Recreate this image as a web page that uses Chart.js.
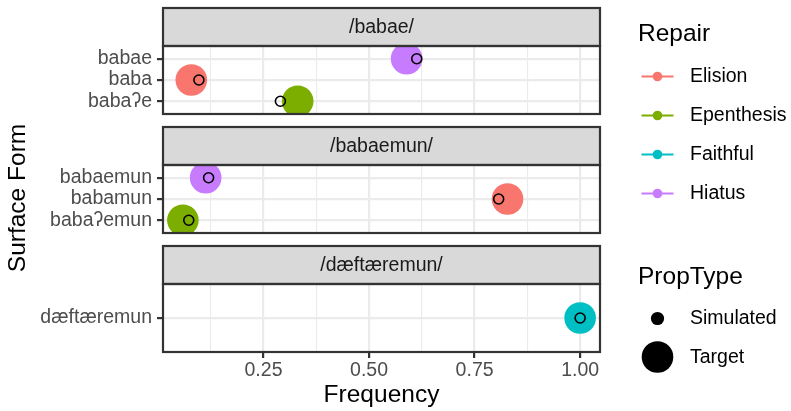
<!DOCTYPE html>
<html>
<head>
<meta charset="utf-8">
<script src="https://cdn.jsdelivr.net/npm/chart.js@4/dist/chart.umd.min.js"></script>
<style>
  html, body { margin: 0; padding: 0; background: #ffffff; }
  #wrap { position: relative; width: 791px; height: 411px; overflow: hidden; background: #ffffff; }
  #wrap canvas { position: absolute; left: 0; top: 0; }
</style>
</head>
<body>
<div id="wrap">
  <canvas id="facet3" width="791" height="411"></canvas>
  <canvas id="facet1" width="791" height="411"></canvas>
  <canvas id="facet2" width="791" height="411"></canvas>
</div>
<script>
// ---- data ----
const panelTitles = ['/babae/', '/babaemun/', '/dæftæremun/'];

const forms1 = ['babae', 'baba', 'babaʔe'];
const repair1 = ['Hiatus', 'Elision', 'Epenthesis'];
const target1 = [0.589, 0.079, 0.331];
const simulated1 = [0.613, 0.097, 0.290];

const forms2 = ['babaemun', 'babamun', 'babaʔemun'];
const repair2 = ['Hiatus', 'Elision', 'Epenthesis'];
const target2 = [0.113, 0.828, 0.059];
const simulated2 = [0.120, 0.807, 0.073];

const forms3 = ['dæftæremun'];
const repair3 = ['Faithful'];
const target3 = [1.0];
const simulated3 = [1.0];

const repairLevels = ['Elision', 'Epenthesis', 'Faithful', 'Hiatus'];
const repairColors = ['#F8766D', '#7CAE00', '#00BFC4', '#C77CFF'];
const propTypeLevels = ['Simulated', 'Target'];

const xMajorTicks = [0.25, 0.5, 0.75, 1.0];
const xMajorLabels = ['0.25', '0.50', '0.75', '1.00'];
const xMinorTicks = [0.125, 0.375, 0.625, 0.875];

// ---- layout ----
const W = 791, H = 411;
const FONT = "'Liberation Sans', Arial, 'DejaVu Sans', sans-serif";
const SMALL = 19.5, LARGE = 24.5;
const PANEL_LEFT = 163, PANEL_RIGHT = 600;
const STRIP_H = 38, PANEL_H = 68;
const stripTops = [8, 127, 246];
const LINE = 2.2;
const GRID = '#EBEBEB';
const DARK = '#333333';

// shared x limits: data range plus 5% on each side
const allX = [].concat(target1, simulated1, target2, simulated2, target3, simulated3);
const dMin = Math.min(...allX), dMax = Math.max(...allX);
const xMin = dMin - 0.05 * (dMax - dMin);
const xMax = dMax + 0.05 * (dMax - dMin);

const xTickValues = xMinorTicks.concat(xMajorTicks).sort((a, b) => a - b);
const isMajor = v => xMajorTicks.some(m => Math.abs(m - v) < 1e-9);

// strip header and panel frame for each facet
const facetFrame = {
  id: 'facetFrame',
  afterDraw(chart, args, opts) {
    const { ctx, chartArea: a } = chart;
    ctx.save();
    const w = a.right - a.left;
    ctx.fillStyle = '#D9D9D9';
    ctx.fillRect(a.left, a.top - STRIP_H, w, STRIP_H);
    ctx.strokeStyle = DARK;
    ctx.lineWidth = LINE;
    ctx.strokeRect(a.left, a.top - STRIP_H, w, STRIP_H);
    ctx.strokeRect(a.left, a.top, w, a.bottom - a.top);
    ctx.fillStyle = '#1A1A1A';
    ctx.font = SMALL + 'px ' + FONT;
    ctx.textAlign = 'center';
    ctx.textBaseline = 'middle';
    ctx.fillText(opts.title, (a.left + a.right) / 2, a.top - STRIP_H / 2 + 1);
    ctx.restore();
  }
};

// y-axis title spanning all facets, plus the two guides on the right
const guides = {
  id: 'guides',
  afterDraw(chart) {
    const { ctx } = chart;
    ctx.save();
    ctx.fillStyle = '#000000';
    ctx.font = LARGE + 'px ' + FONT;
    ctx.translate(18.5, 198);
    ctx.rotate(-Math.PI / 2);
    ctx.textAlign = 'center';
    ctx.textBaseline = 'middle';
    ctx.fillText('Surface Form', 0, 0);
    ctx.restore();

    ctx.save();
    const keyX = 657.5, labelX = 690, titleX = 638;
    ctx.fillStyle = '#000000';
    ctx.textAlign = 'left';
    ctx.textBaseline = 'alphabetic';
    ctx.font = LARGE + 'px ' + FONT;
    ctx.fillText('Repair', titleX, 40.5);
    ctx.font = SMALL + 'px ' + FONT;
    ctx.textBaseline = 'middle';
    repairLevels.forEach((name, i) => {
      const y = 76.5 + i * 39;
      ctx.strokeStyle = repairColors[i];
      ctx.lineWidth = 2.2;
      ctx.beginPath();
      ctx.moveTo(keyX - 16, y);
      ctx.lineTo(keyX + 16, y);
      ctx.stroke();
      ctx.fillStyle = repairColors[i];
      ctx.beginPath();
      ctx.arc(keyX, y, 4.8, 0, Math.PI * 2);
      ctx.fill();
      ctx.fillStyle = '#000000';
      ctx.fillText(name, labelX, y + 0.5);
    });

    ctx.textBaseline = 'alphabetic';
    ctx.font = LARGE + 'px ' + FONT;
    ctx.fillText('PropType', titleX, 283.5);
    ctx.font = SMALL + 'px ' + FONT;
    ctx.textBaseline = 'middle';
    const keyRadius = [6.6, 15.8];
    const keyY = [318.5, 357];
    propTypeLevels.forEach((name, i) => {
      ctx.fillStyle = '#000000';
      ctx.beginPath();
      ctx.arc(keyX, keyY[i], keyRadius[i], 0, Math.PI * 2);
      ctx.fill();
      ctx.fillText(name, labelX, keyY[i] + 0.5);
    });
    ctx.restore();
  }
};

function makeFacet(canvasId, k, forms, repair, target, simulated, showX) {
  const top = stripTops[k] + STRIP_H;
  const bottom = top + PANEL_H;
  const colors = repair.map(r => repairColors[repairLevels.indexOf(r)]);
  const extra = showX ? [guides] : [];
  return new Chart(document.getElementById(canvasId), {
    type: 'scatter',
    data: {
      datasets: [
        {
          label: 'Target',
          data: target.map((v, i) => ({ x: v, y: i })),
          pointRadius: 15.8,
          pointBackgroundColor: colors,
          pointBorderWidth: 0,
          pointBorderColor: 'rgba(0,0,0,0)',
          order: 2
        },
        {
          label: 'Simulated',
          data: simulated.map((v, i) => ({ x: v, y: i })),
          pointRadius: 5,
          pointBackgroundColor: 'rgba(0,0,0,0)',
          pointBorderColor: '#000000',
          pointBorderWidth: 1.6,
          order: 1
        }
      ]
    },
    options: {
      responsive: false,
      animation: false,
      devicePixelRatio: 1,
      events: [],
      layout: {
        autoPadding: false,
        padding: { top: top, left: 0, right: W - PANEL_RIGHT, bottom: showX ? 0 : H - bottom }
      },
      plugins: {
        legend: { display: false },
        tooltip: { enabled: false },
        facetFrame: { title: panelTitles[k] }
      },
      scales: {
        x: {
          type: 'linear',
          min: xMin,
          max: xMax,
          afterBuildTicks: s => { s.ticks = xTickValues.map(v => ({ value: v })); },
          afterFit: s => { s.height = showX ? H - bottom : 0; },
          border: { display: false },
          grid: {
            color: GRID,
            lineWidth: c => (c.tick && isMajor(c.tick.value)) ? LINE : LINE / 2,
            drawTicks: showX,
            tickLength: 6,
            tickColor: c => (c.tick && isMajor(c.tick.value)) ? DARK : 'rgba(0,0,0,0)',
            tickWidth: LINE
          },
          ticks: {
            display: showX,
            autoSkip: false,
            maxRotation: 0,
            padding: 1,
            color: '#4D4D4D',
            font: { family: FONT, size: SMALL },
            callback: v => {
              const j = xMajorTicks.findIndex(m => Math.abs(m - v) < 1e-9);
              return j >= 0 ? xMajorLabels[j] : '';
            }
          },
          title: {
            display: showX,
            text: 'Frequency',
            color: '#000000',
            font: { family: FONT, size: LARGE },
            padding: { top: 0, bottom: 1 }
          }
        },
        y: {
          type: 'linear',
          reverse: true,
          min: -0.6,
          max: forms.length - 1 + 0.6,
          afterBuildTicks: s => { s.ticks = forms.map((f, i) => ({ value: i })); },
          afterFit: s => { s.width = PANEL_LEFT; },
          border: { display: false },
          grid: {
            color: GRID,
            lineWidth: LINE,
            drawTicks: true,
            tickLength: 6,
            tickColor: DARK,
            tickWidth: LINE
          },
          ticks: {
            autoSkip: false,
            padding: 5,
            color: '#4D4D4D',
            font: { family: FONT, size: SMALL },
            callback: v => forms[Math.round(v)]
          }
        }
      }
    },
    plugins: [facetFrame].concat(extra)
  });
}

makeFacet('facet3', 2, forms3, repair3, target3, simulated3, true);
makeFacet('facet1', 0, forms1, repair1, target1, simulated1, false);
makeFacet('facet2', 1, forms2, repair2, target2, simulated2, false);
</script>
</body>
</html>
